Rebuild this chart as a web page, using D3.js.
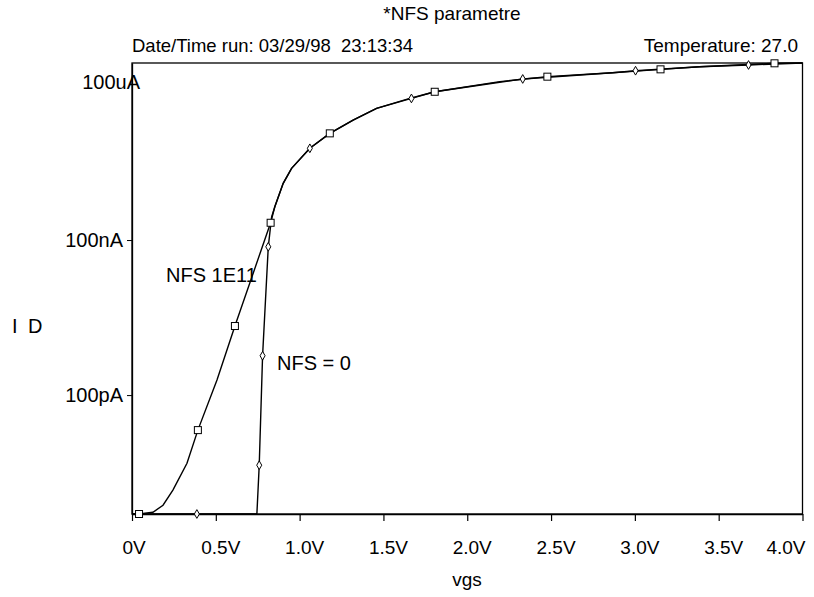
<!DOCTYPE html>
<html>
<head>
<meta charset="utf-8">
<script src="https://cdn.jsdelivr.net/npm/d3@7/dist/d3.min.js"></script>
<style>
  body { margin: 0; background: #fff; }
  svg { display: block; font-family: "Liberation Sans", Arial, sans-serif; }
</style>
</head>
<body>
<svg id="chart" width="814" height="597"></svg>
<script>
// ---- data ----
const titleText = "*NFS parametre";
const dateText = "Date/Time run: 03/29/98  23:13:34";
const tempText = "Temperature: 27.0";
const xLabel = "vgs";
const yLabel = "I D";

const xDomain = [0, 4.0];
const yDomain = [5e-13, 2.666e-4];
const xTicks = [0, 0.5, 1.0, 1.5, 2.0, 2.5, 3.0, 3.5, 4.0];
const xTickLabels = ["0V", "0.5V", "1.0V", "1.5V", "2.0V", "2.5V", "3.0V", "3.5V", "4.0V"];
const yTicks = [1e-10, 1e-7, 1e-4];
const yTickLabels = ["100pA", "100nA", "100uA"];

// series NFS 1E11 (square markers)
const vgsNfs1e11 = [0, 0.042, 0.125, 0.185, 0.244, 0.328, 0.393, 0.507, 0.614, 0.827, 0.852, 0.902, 0.952, 1.061, 1.180, 1.319, 1.459, 1.657, 1.806, 2.194, 2.478, 2.867, 3.153, 3.386, 3.833, 4.0];
const idNfs1e11 = [5.0e-13, 5.0e-13, 5.4e-13, 7.4e-13, 1.45e-12, 4.8e-12, 2.1e-11, 1.95e-10, 2.17e-9, 2.16e-7, 4.4e-7, 1.25e-6, 2.44e-6, 5.96e-6, 1.16e-5, 2.1e-5, 3.54e-5, 5.53e-5, 7.4e-5, 1.16e-4, 1.45e-4, 1.73e-4, 2.01e-4, 2.26e-4, 2.63e-4, 2.666e-4];
const markVgsNfs1e11 = [0.042, 0.393, 0.614, 0.827, 1.180, 1.806, 2.478, 3.153, 3.833];
const markIdNfs1e11 = [5.0e-13, 2.1e-11, 2.17e-9, 2.16e-7, 1.16e-5, 7.4e-5, 1.45e-4, 2.01e-4, 2.63e-4];

// series NFS = 0 (diamond markers)
const vgsNfs0 = [0, 0.387, 0.745, 0.759, 0.779, 0.813, 0.833, 0.852, 0.902, 0.952, 1.061, 1.180, 1.319, 1.459, 1.667, 1.806, 2.331, 2.867, 3.004, 3.386, 3.678, 4.0];
const idNfs0 = [5e-13, 5e-13, 5e-13, 4.4e-12, 5.77e-10, 7.4e-8, 2.8e-7, 4.4e-7, 1.25e-6, 2.44e-6, 5.96e-6, 1.16e-5, 2.1e-5, 3.54e-5, 5.5e-5, 7.4e-5, 1.31e-4, 1.73e-4, 1.89e-4, 2.26e-4, 2.44e-4, 2.666e-4];
const markVgsNfs0 = [0.387, 0.759, 0.779, 0.813, 1.061, 1.667, 2.331, 3.004, 3.678];
const markIdNfs0 = [5e-13, 4.4e-12, 5.77e-10, 7.4e-8, 5.96e-6, 5.5e-5, 1.31e-4, 1.89e-4, 2.44e-4];

const seriesLabels = ["NFS 1E11", "NFS = 0"];

// ---- layout ----
const svg = d3.select("#chart");
const plotL = 132, plotR = 802.5, plotT = 63, plotB = 514;

const x = d3.scaleLinear().domain(xDomain).range([plotL, plotR]);
const y = d3.scaleLog().domain(yDomain).range([plotB, plotT]);

// frame
svg.append("rect")
  .attr("x", plotL).attr("y", plotT)
  .attr("width", plotR - plotL).attr("height", plotB - plotT)
  .attr("fill", "none").attr("stroke", "#000").attr("stroke-width", 1.3);

// x axis
const xAxis = d3.axisBottom(x)
  .tickValues(xTicks)
  .tickFormat((d, i) => xTickLabels[i])
  .tickSize(7).tickSizeOuter(0).tickPadding(20);
const gx = svg.append("g").attr("transform", `translate(0,${plotB})`).call(xAxis);
gx.select(".domain").attr("stroke-width", 1.3);
gx.selectAll(".tick line").attr("stroke-width", 1.2);
gx.selectAll(".tick text")
  .attr("font-size", 19)
  .attr("fill", "#000")
  .attr("font-family", "Liberation Sans, Arial, sans-serif")
  .attr("dx", (d, i) => i === 0 ? 1.5 : (i === xTicks.length - 1 ? -17 : 4.5));

// y axis
const yAxis = d3.axisLeft(y)
  .tickValues(yTicks)
  .tickFormat((d, i) => yTickLabels[i])
  .tickSize(5).tickSizeOuter(0).tickPadding(4);
const gy = svg.append("g").attr("transform", `translate(${plotL},0)`).call(yAxis);
gy.select(".domain").attr("stroke-width", 1.3);
gy.selectAll(".tick text")
  .attr("font-size", 20)
  .attr("fill", "#000")
  .attr("font-family", "Liberation Sans, Arial, sans-serif");
// top label sits shifted right over the axis, with no tick mark
gy.selectAll(".tick").filter((d, i) => i === yTicks.length - 1).each(function() {
  d3.select(this).select("line").remove();
  d3.select(this).select("text").attr("dx", 17).attr("dy", "0.15em");
});

// titles
svg.append("text").attr("x", 452).attr("y", 20).attr("text-anchor", "middle")
  .attr("font-size", 19).text(titleText);
svg.append("text").attr("x", 132).attr("y", 52).attr("text-anchor", "start")
  .attr("font-size", 19).attr("xml:space", "preserve")
  .attr("textLength", 281).attr("lengthAdjust", "spacingAndGlyphs").text(dateText);
svg.append("text").attr("x", 798).attr("y", 52).attr("text-anchor", "end")
  .attr("font-size", 19).text(tempText);
svg.append("text").attr("x", 467).attr("y", 586).attr("text-anchor", "middle")
  .attr("font-size", 19).text(xLabel);
svg.append("text").attr("x", 12).attr("y", 333).attr("text-anchor", "start")
  .attr("font-size", 20).attr("word-spacing", 5).text(yLabel);

// lines
const line = d3.line().x(d => x(d[0])).y(d => y(d[1]));
const s1 = vgsNfs1e11.map((v, i) => [v, idNfs1e11[i]]);
const s0 = vgsNfs0.map((v, i) => [v, idNfs0[i]]);

svg.append("path").datum(s0).attr("d", line)
  .attr("fill", "none").attr("stroke", "#000").attr("stroke-width", 1.4);
svg.append("path").datum(s1).attr("d", line)
  .attr("fill", "none").attr("stroke", "#000").attr("stroke-width", 1.4);

// markers
const m1 = markVgsNfs1e11.map((v, i) => [v, markIdNfs1e11[i]]);
const m0 = markVgsNfs0.map((v, i) => [v, markIdNfs0[i]]);

svg.append("g").selectAll("rect").data(m1).join("rect")
  .attr("x", d => x(d[0]) - 3.5).attr("y", d => y(d[1]) - 3.5)
  .attr("width", 7).attr("height", 7)
  .attr("fill", "#fff").attr("stroke", "#000").attr("stroke-width", 1);

const diamond = d3.symbol().type(d3.symbolDiamond).size(22);
svg.append("g").selectAll("path").data(m0).join("path")
  .attr("transform", d => `translate(${x(d[0])},${y(d[1])})`)
  .attr("d", diamond)
  .attr("fill", "#fff").attr("stroke", "#000").attr("stroke-width", 1);

// series labels
svg.append("text").attr("x", 166).attr("y", 282).attr("font-size", 20).text(seriesLabels[0]);
svg.append("text").attr("x", 277).attr("y", 370).attr("font-size", 20).text(seriesLabels[1]);
</script>
</body>
</html>
